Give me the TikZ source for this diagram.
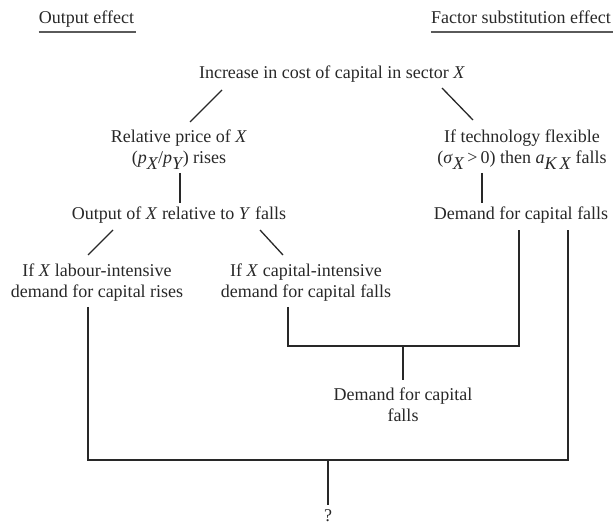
\documentclass[tikz,border=0pt]{standalone}
\usepackage{fontspec}
\setmainfont{Liberation Serif}
\usetikzlibrary{calc}
\definecolor{ink}{RGB}{40,40,40}
\definecolor{uline}{RGB}{90,90,90}
\begin{document}
\begin{tikzpicture}[x=1pt,y=-1pt,
  txt/.style={align=center, inner sep=0pt, anchor=base, font=\fontsize{18}{21}\selectfont, text=ink},
  ln/.style={draw=ink, line width=1.3pt},
  ul/.style={draw=uline, line width=1.6pt}]
\useasboundingbox (0,0) rectangle (613,529);
% headings
\node[txt] (outl) at (86.5,24) {Output effect};
\node[txt] (fact) at (521,24) {Factor substitution effect};
\draw[ul] ($(outl.base west)+(0,8)$) -- ($(outl.base east)+(2,8)$);
\draw[ul] ($(fact.base west)+(0,8)$) -- ($(fact.base east)+(2,8)$);
% nodes (base = baseline of last line)
\node[txt] (inc) at (332,79) {Increase in cost of capital in sector \textit{X}};
\node[txt] (rel) at (179,164) {Relative price of \textit{X}\\(\textit{p}$_{\textit{X}}$/\textit{p}$_{\textit{Y}}$) rises};
\node[txt] (tech) at (522,164) {If technology flexible\\(\textit{σ}$_{\textit{X}}$\,>\,0) then \textit{a}$_{\textit{K\,X}}$ falls};
\node[txt] (outx) at (179,220) {Output of \textit{X} relative to \textit{Y} falls};
\node[txt] (dcf) at (521,220) {Demand for capital falls};
\node[txt] (lab) at (97,298) {If \textit{X} labour-intensive\\demand for capital rises};
\node[txt] (cap) at (306,298) {If \textit{X} capital-intensive\\demand for capital falls};
\node[txt] (dcm) at (403,421) {Demand for capital\\falls};
\node[txt] (q) at (328,521) {?};
% coordinates
\coordinate (a1) at (222,90);  \coordinate (a2) at (190,122);
\coordinate (b1) at (442,88);  \coordinate (b2) at (473,120);
\coordinate (c1) at (180,173); \coordinate (c2) at (180,203);
\coordinate (d1) at (482,173); \coordinate (d2) at (482,203);
\coordinate (e1) at (113,230); \coordinate (e2) at (88,255);
\coordinate (f1) at (260,230); \coordinate (f2) at (283,255);
\coordinate (g1) at (88,307);  \coordinate (g2) at (88,460);
\coordinate (h1) at (288,307); \coordinate (h2) at (288,346);
\coordinate (h3) at (519,346); \coordinate (h4) at (519,230);
\coordinate (m1) at (403,346); \coordinate (m2) at (403,380);
\coordinate (k1) at (568,230); \coordinate (k2) at (568,460);
\coordinate (q1) at (328,460); \coordinate (q2) at (328,505);
% connectors
\draw[ln] (a1) -- (a2);
\draw[ln] (b1) -- (b2);
\draw[ln] (c1) -- (c2);
\draw[ln] (d1) -- (d2);
\draw[ln] (e1) -- (e2);
\draw[ln] (f1) -- (f2);
\draw[ln] (h1) -- (h2) -- (h3) -- (h4);
\draw[ln] (m1) -- (m2);
\draw[ln] (g1) -- (g2) -- (k2) -- (k1);
\draw[ln] (q1) -- (q2);
\end{tikzpicture}
\end{document}
